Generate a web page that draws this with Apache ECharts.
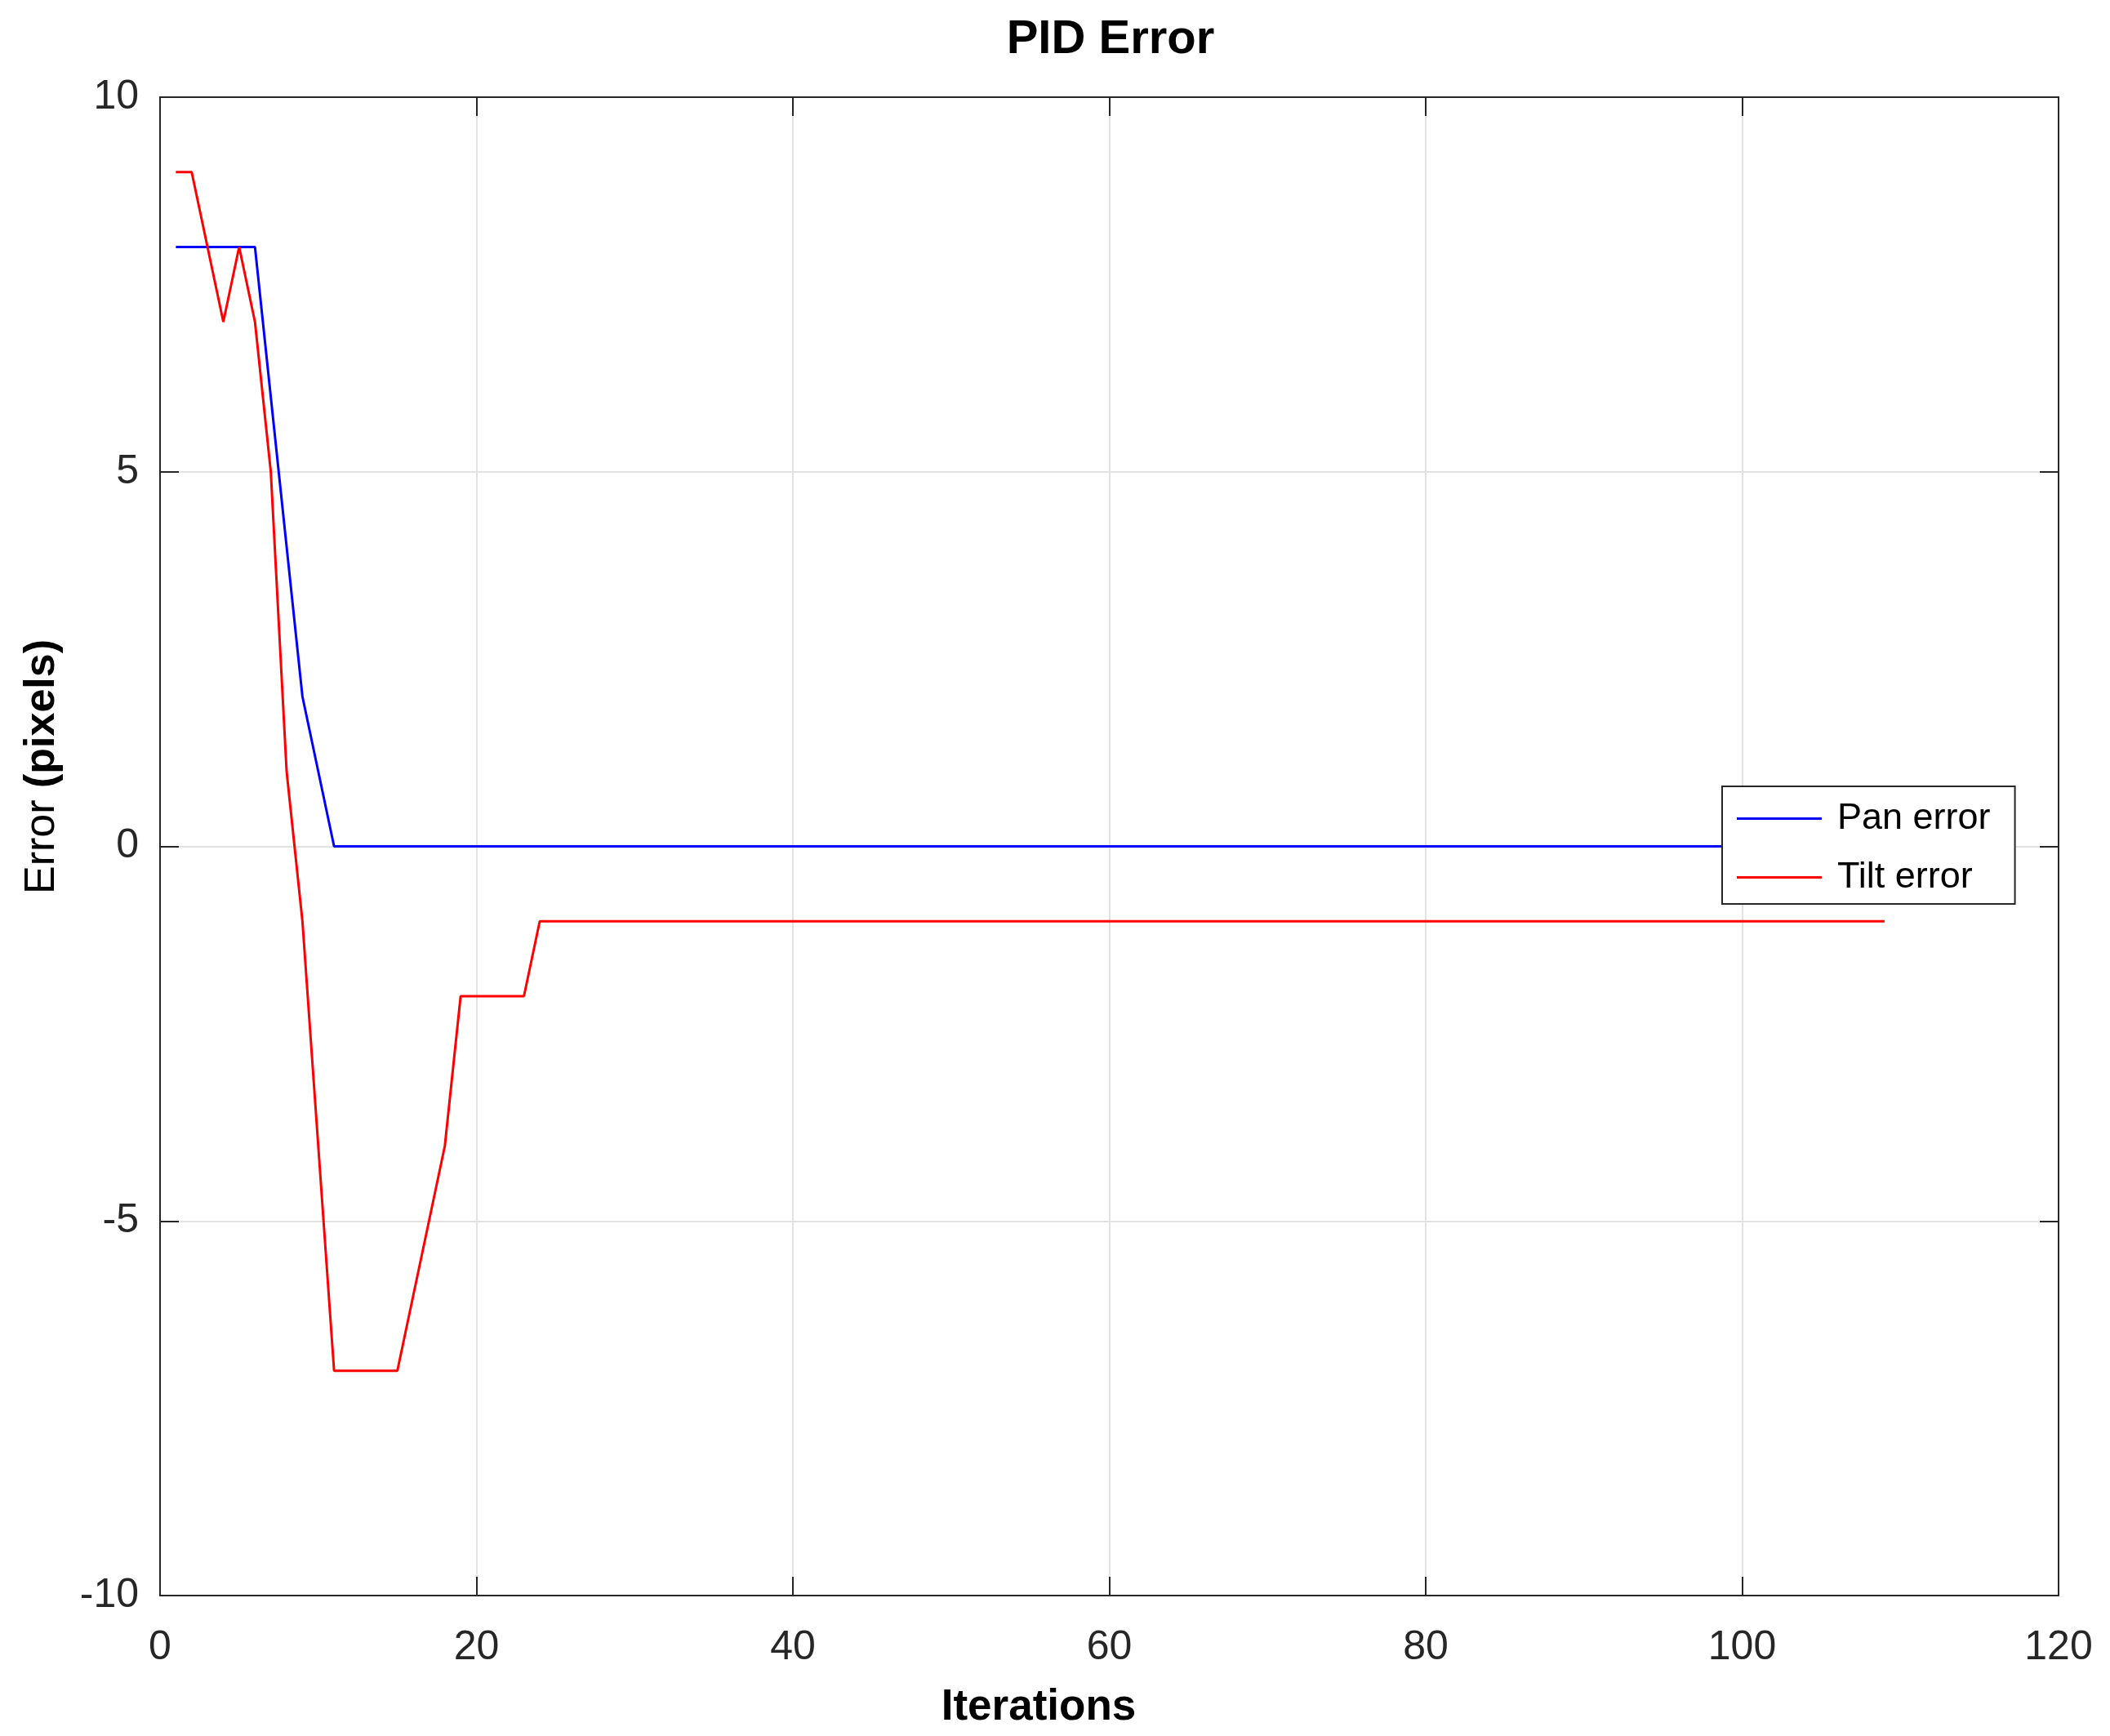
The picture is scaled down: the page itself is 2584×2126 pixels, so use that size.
<!DOCTYPE html>
<html>
<head>
<meta charset="utf-8">
<script src="https://cdn.jsdelivr.net/npm/echarts@6/dist/echarts.min.js"></script>
<style>
html,body{margin:0;padding:0;background:#fff;}
#chart{width:2584px;height:2126px;}
</style>
</head>
<body>
<div id="chart"></div>
<script>
// ---- data ----
var panError = [
  8,8,8,8,8,8,6,4,2,1,
  0,0,0,0,0,0,0,0,0,0,
  0,0,0,0,0,0,0,0,0,0,
  0,0,0,0,0,0,0,0,0,0,
  0,0,0,0,0,0,0,0,0,0,
  0,0,0,0,0,0,0,0,0,0,
  0,0,0,0,0,0,0,0,0,0,
  0,0,0,0,0,0,0,0,0,0,
  0,0,0,0,0,0,0,0,0,0,
  0,0,0,0,0,0,0,0,0,0,
  0,0,0,0,0,0,0,0,0
];
var tiltError = [
  9,9,8,7,8,7,5,1,-1,-4,
  -7,-7,-7,-7,-7,-6,-5,-4,-2,-2,
  -2,-2,-2,-1,-1,-1,-1,-1,-1,-1,
  -1,-1,-1,-1,-1,-1,-1,-1,-1,-1,
  -1,-1,-1,-1,-1,-1,-1,-1,-1,-1,
  -1,-1,-1,-1,-1,-1,-1,-1,-1,-1,
  -1,-1,-1,-1,-1,-1,-1,-1,-1,-1,
  -1,-1,-1,-1,-1,-1,-1,-1,-1,-1,
  -1,-1,-1,-1,-1,-1,-1,-1,-1,-1,
  -1,-1,-1,-1,-1,-1,-1,-1,-1,-1,
  -1,-1,-1,-1,-1,-1,-1,-1,-1
];
var seriesNames = ['Pan error', 'Tilt error'];
var xTicks = {min: 0, max: 120, interval: 20};
var yTicks = {min: -10, max: 10, interval: 5};

function pairs(arr) {
  var out = [];
  for (var i = 0; i < arr.length; i++) out.push([i + 1, arr[i]]);
  return out;
}

var FONT = 'Liberation Sans, Arial, Helvetica, sans-serif';
var AX = '#262626';
var GRID = '#e2e2e2';

var chart = echarts.init(document.getElementById('chart'), null, {renderer: 'canvas'});

var tickCommon = {show: true, inside: true, length: 23, lineStyle: {color: AX, width: 2}};

chart.setOption({
  backgroundColor: '#ffffff',
  animation: false,
  grid: {left: 196, top: 119, right: 63, bottom: 172, containLabel: false},
  legend: {
    orient: 'vertical',
    left: 2109,
    top: 963,
    padding: [17, 30, 10, 18],
    itemGap: 27,
    itemWidth: 104,
    itemHeight: 3,
    icon: 'rect',
    backgroundColor: '#ffffff',
    borderColor: AX,
    borderWidth: 2,
    borderRadius: 0,
    data: seriesNames,
    textStyle: {fontFamily: FONT, fontSize: 45, color: '#000', lineHeight: 45, padding: [0, 0, 0, 14]}
  },
  xAxis: [
    {
      type: 'value', position: 'bottom',
      min: xTicks.min, max: xTicks.max, interval: xTicks.interval,
      axisLine: {show: true, onZero: false, lineStyle: {color: AX, width: 2}},
      axisTick: tickCommon,
      axisLabel: {fontFamily: FONT, fontSize: 50, color: AX, margin: 39},
      splitLine: {show: true, lineStyle: {color: GRID, width: 2}}
    },
    {
      type: 'value', position: 'top',
      min: xTicks.min, max: xTicks.max, interval: xTicks.interval,
      axisLine: {show: true, onZero: false, lineStyle: {color: AX, width: 2}},
      axisTick: tickCommon,
      axisLabel: {show: false},
      splitLine: {show: false}
    }
  ],
  yAxis: [
    {
      type: 'value', position: 'left',
      min: yTicks.min, max: yTicks.max, interval: yTicks.interval,
      axisLine: {show: true, onZero: false, lineStyle: {color: AX, width: 2}},
      axisTick: tickCommon,
      axisLabel: {fontFamily: FONT, fontSize: 50, color: AX, margin: 26},
      splitLine: {show: true, lineStyle: {color: GRID, width: 2}}
    },
    {
      type: 'value', position: 'right',
      min: yTicks.min, max: yTicks.max, interval: yTicks.interval,
      axisLine: {show: true, onZero: false, lineStyle: {color: AX, width: 2}},
      axisTick: tickCommon,
      axisLabel: {show: false},
      splitLine: {show: false}
    }
  ],
  graphic: [
    {
      type: 'text',
      x: 1360, y: 49,
      style: {
        text: 'PID Error',
        align: 'center', verticalAlign: 'middle',
        fontFamily: FONT, fontSize: 58, fontWeight: 'bold', fill: '#000'
      }
    },
    {
      type: 'text',
      x: 1272, y: 2091,
      style: {
        text: 'Iterations',
        align: 'center', verticalAlign: 'middle',
        fontFamily: FONT, fontSize: 53, fontWeight: 'bold', fill: '#000'
      }
    },
    {
      type: 'text',
      x: 52, y: 939,
      rotation: Math.PI / 2,
      style: {
        text: '{a|Error }{b|(pixels)}',
        align: 'center',
        verticalAlign: 'middle',
        rich: {
          a: {fontFamily: FONT, fontSize: 52, fontWeight: 'normal', fill: '#000'},
          b: {fontFamily: FONT, fontSize: 52, fontWeight: 'bold', fill: '#000'}
        }
      }
    }
  ],
  series: [
    {
      name: seriesNames[0], type: 'line', xAxisIndex: 0, yAxisIndex: 0,
      data: pairs(panError), symbol: 'none', smooth: false,
      lineStyle: {color: '#0000ff', width: 3}, itemStyle: {color: '#0000ff'}, z: 2
    },
    {
      name: seriesNames[1], type: 'line', xAxisIndex: 0, yAxisIndex: 0,
      data: pairs(tiltError), symbol: 'none', smooth: false,
      lineStyle: {color: '#ff0000', width: 3}, itemStyle: {color: '#ff0000'}, z: 3
    }
  ]
});
</script>
</body>
</html>
